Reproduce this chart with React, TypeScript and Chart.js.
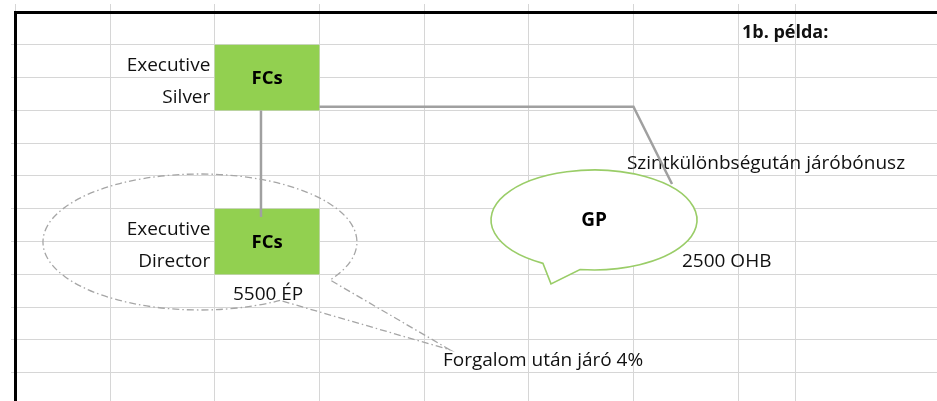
import React, { useEffect, useRef } from 'react';
import { Chart, registerables } from 'chart.js';

Chart.register(...registerables);

// Sheet grid (column / row boundaries in cell units)
const colBoundaries = [0.097, 1, 2, 3, 4, 5, 6, 7, 7.552];
const rowBoundaries = [1, 2, 3, 4, 5, 6, 7, 8, 9, 10, 11];
const borderCol = 0.0974;
const borderRow = 0.015;

// Cell texts
const cellTexts = [
  '1b. példa:',
  'Executive',
  'Silver',
  'Executive',
  'Director',
  '5500 ÉP',
  'Szintkülönbségután járóbónusz',
  '2500 OHB',
  'Forgalom után járó 4%',
];
const cellX = [7.036, 1.958, 1.958, 1.958, 1.958, 2.51, 5.937, 6.463, 4.18];
const cellRows = [0, 1, 2, 6, 7, 8, 4, 7, 10];
const cellAlign = ['left', 'right', 'right', 'right', 'right', 'center', 'left', 'left', 'left'];
const cellBold = [true, false, false, false, false, false, false, false, false];

// Green level boxes
const boxLabels = ['FCs', 'FCs'];
const boxCols = [2, 2];
const boxRows = [1, 6];

// Connector lines
const connectorDown = [
  { x: 2.442, y: 3.0 },
  { x: 2.442, y: 6.25 },
];
const connectorRight = [
  { x: 3.0, y: 2.89 },
  { x: 6.0, y: 2.89 },
  { x: 6.368, y: 5.244 },
];

// Callouts
const calloutLabels = ['GP', ''];
const calloutCx = [5.623, 1.859];
const calloutCy = [6.34, 7.012];
const calloutRx = [0.984, 1.4995];
const calloutRy = [1.524, 2.073];
const calloutTipX = [5.212, 4.247];
const calloutTipY = [8.29, 10.3];
const calloutGapFrom = [97.8, 34];
const calloutGapTo = [119.7, 59.3];

const FONT = '"Open Sans", "Noto Sans", sans-serif';

const sheetPlugin = {
  id: 'sheet',
  beforeDatasetsDraw(chart: any) {
    const { ctx, chartArea } = chart;
    const x = chart.scales.x;
    const y = chart.scales.y;
    ctx.save();
    // boxes
    for (let i = 0; i < boxLabels.length; i++) {
      const x0 = x.getPixelForValue(boxCols[i]);
      const x1 = x.getPixelForValue(boxCols[i] + 1);
      const y0 = y.getPixelForValue(boxRows[i]);
      const y1 = y.getPixelForValue(boxRows[i] + 2);
      ctx.fillStyle = '#92D050';
      ctx.fillRect(x0, y0, x1 - x0, y1 - y0);
      ctx.fillStyle = '#000';
      ctx.font = `bold 18.5px ${FONT}`;
      ctx.textAlign = 'center';
      ctx.textBaseline = 'middle';
      ctx.fillText(boxLabels[i], (x0 + x1) / 2, (y0 + y1) / 2 + 1);
    }
    // borders
    ctx.strokeStyle = '#000';
    ctx.lineWidth = 3;
    ctx.beginPath();
    const bx = x.getPixelForValue(borderCol);
    const by = y.getPixelForValue(borderRow);
    ctx.moveTo(bx, chart.height);
    ctx.lineTo(bx, by);
    ctx.lineTo(chart.width, by);
    ctx.stroke();
    // cell texts
    ctx.textBaseline = 'alphabetic';
    for (let i = 0; i < cellTexts.length; i++) {
      ctx.font = `${cellBold[i] ? 'bold 18px' : '19px'} ${FONT}`;
      ctx.fillStyle = '#111';
      ctx.textAlign = cellAlign[i];
      const px = x.getPixelForValue(cellX[i]);
      const py = y.getPixelForValue(cellRows[i] + 1) - 7;
      ctx.fillText(cellTexts[i], px, py);
    }
    ctx.restore();
  },
  afterDatasetsDraw(chart: any) {
    const { ctx } = chart;
    const x = chart.scales.x;
    const y = chart.scales.y;
    ctx.save();
    for (let i = 0; i < calloutLabels.length; i++) {
      const cx = x.getPixelForValue(calloutCx[i]);
      const cy = y.getPixelForValue(calloutCy[i]);
      const rx = x.getPixelForValue(calloutCx[i] + calloutRx[i]) - cx;
      const ry = y.getPixelForValue(calloutCy[i] + calloutRy[i]) - cy;
      const tx = x.getPixelForValue(calloutTipX[i]);
      const ty = y.getPixelForValue(calloutTipY[i]);
      const a0 = (calloutGapTo[i] * Math.PI) / 180;
      const a1 = ((calloutGapFrom[i] + 360) * Math.PI) / 180;
      ctx.beginPath();
      ctx.ellipse(cx, cy, rx, ry, 0, a0, a1, false);
      ctx.lineTo(tx, ty);
      ctx.closePath();
      if (i === 0) {
        ctx.setLineDash([]);
        ctx.fillStyle = '#fff';
        ctx.fill();
        ctx.strokeStyle = '#9ACD68';
        ctx.lineWidth = 1.6;
        ctx.stroke();
      } else {
        ctx.setLineDash([7, 3, 1.5, 3]);
        ctx.strokeStyle = '#a6a6a6';
        ctx.lineWidth = 1.3;
        ctx.stroke();
      }
      if (calloutLabels[i]) {
        ctx.setLineDash([]);
        ctx.fillStyle = '#000';
        ctx.font = `bold 19px ${FONT}`;
        ctx.textAlign = 'center';
        ctx.textBaseline = 'middle';
        ctx.fillText(calloutLabels[i], cx, cy + 1);
      }
    }
    ctx.restore();
  },
};

export default function App() {
  const ref = useRef<HTMLCanvasElement | null>(null);
  useEffect(() => {
    if (!ref.current) return;
    const chart = new Chart(ref.current, {
      type: 'scatter',
      data: {
        datasets: [
          {
            data: connectorDown,
            showLine: true,
            borderColor: '#a0a0a0',
            borderWidth: 2.5,
            pointRadius: 0,
          },
          {
            data: connectorRight,
            showLine: true,
            borderColor: '#a0a0a0',
            borderWidth: 2.5,
            pointRadius: 0,
          },
        ],
      },
      options: {
        animation: false,
        responsive: false,
        maintainAspectRatio: false,
        events: [],
        layout: { padding: { left: 11, top: 4, right: 0, bottom: 0 } },
        plugins: { legend: { display: false }, tooltip: { enabled: false } },
        scales: {
          x: {
            type: 'linear',
            min: 0.0544,
            max: 8.899,
            afterBuildTicks: (s: any) => {
              s.ticks = colBoundaries.map((v) => ({ value: v }));
            },
            ticks: { display: false },
            border: { display: false },
            grid: { color: '#d6d6d6', lineWidth: 1, drawTicks: false, tickLength: 0 },
          },
          y: {
            type: 'linear',
            reverse: true,
            min: -0.244,
            max: 11.86,
            afterBuildTicks: (s: any) => {
              s.ticks = rowBoundaries.map((v) => ({ value: v }));
            },
            ticks: { display: false },
            border: { display: false },
            grid: { color: '#d6d6d6', lineWidth: 1, drawTicks: false, tickLength: 0 },
          },
        },
      },
      plugins: [sheetPlugin],
    });
    return () => chart.destroy();
  }, []);
  return (
    <div style={{ position: 'fixed', left: 0, top: 0, width: 937, height: 401, background: '#fff' }}>
      <canvas ref={ref} width={937} height={401} />
    </div>
  );
}
